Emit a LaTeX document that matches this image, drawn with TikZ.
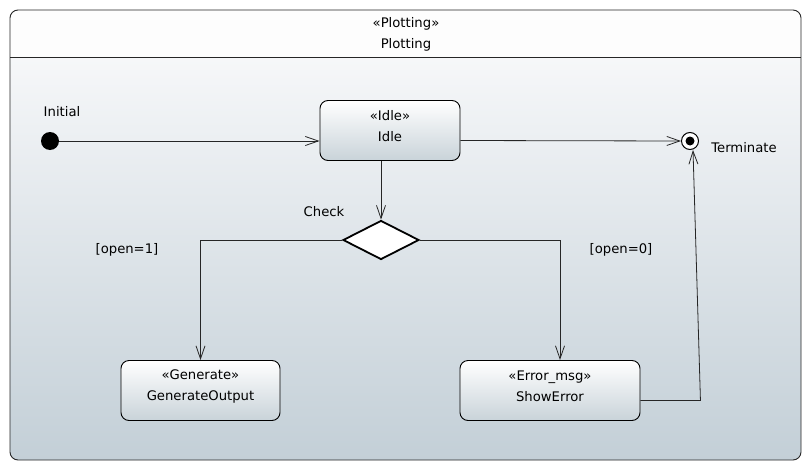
\documentclass[tikz,border=0pt]{standalone}
\usepackage{fontspec}
\setmainfont{DejaVu Sans}
\usetikzlibrary{arrows.meta,shapes.geometric}
\definecolor{bgtop}{HTML}{FCFCFD}
\definecolor{bgbot}{HTML}{C3CFD7}
\definecolor{boxbot}{HTML}{C9D3D9}
\definecolor{hdr}{HTML}{FDFDFD}
\begin{document}
\begin{tikzpicture}[x=1pt,y=-1pt,
  every node/.style={font=\fontsize{13.2}{21}\selectfont},
  statebox/.style={draw=black, line width=0.9pt, rounded corners=8pt, top color=white, bottom color=boxbot, minimum height=60pt, inner sep=0pt},
  boxtext/.style={align=center, inner sep=0pt},
  arr/.style={-{Straight Barb[length=13pt,width=9pt]}, line width=0.8pt, draw=black!85},
  lbl/.style={inner sep=0pt}]
\useasboundingbox (0,0) rectangle (811,471);
% frame
\shade[top color=bgtop, bottom color=bgbot, rounded corners=8pt] (10,10) rectangle (801,460);
\begin{scope}
\clip (0,0) rectangle (811,57);
\fill[hdr, rounded corners=8pt] (10,10) rectangle (801,460);
\end{scope}
\draw[black!85, line width=0.9pt, rounded corners=8pt] (10,10) rectangle (801,460);
\draw[black!85, line width=0.9pt] (10,57) -- (801,57);
\node[lbl] (stereo) at (406,24) {«Plotting»};
\node[lbl] (title) at (406,45) {Plotting};
% nodes
\node[circle, fill=black, minimum size=18pt, inner sep=0pt] (init) at (50,141) {};
\node[lbl] (initlbl) at (62,112) {Initial};
\node[statebox, minimum width=140pt] (idle) at (390,130.5) {};
\node[boxtext] (idletext) at ([yshift=4.5pt]idle.center) {«Idle»\\Idle};
\node[circle, draw=black, line width=1pt, fill=white, minimum size=17pt, inner sep=0pt] (term) at (690,141) {};
\fill[black] (term.center) circle (4.5pt);
\node[lbl] (termlbl) at (744,148) {Terminate};
\node[diamond, draw=black, line width=1.8pt, fill=white, minimum width=76pt, minimum height=39pt, inner sep=0pt] (dia) at (381,240) {};
\node[lbl] (check) at (324,212) {Check};
\node[lbl] (g1) at (127,250) {[open=1]};
\node[lbl] (g0) at (621,250) {[open=0]};
\node[statebox, minimum width=159pt] (gen) at (200.5,390.5) {};
\node[boxtext] (gentext) at ([yshift=4.5pt]gen.center) {«Generate»\\GenerateOutput};
\node[statebox, minimum width=180pt] (err) at (550,390.5) {};
\node[boxtext] (errtext) at ([yshift=4.5pt]err.center) {«Error\_msg»\\ShowError};
% connectors
\draw[arr] (init.east) -- (init -| idle.west);
\draw[arr] ([yshift=-10pt]idle.east) -- (term.west);
\draw[arr] (idle.south -| dia.north) -- (dia.north);
\draw[arr] (dia.west) -| (gen.north);
\draw[arr] (dia.east) -| ([xshift=10pt]err.north);
\draw[arr] ([yshift=-10pt]err.east) -- ++(60,0) -- ([xshift=3pt]term.south);
\end{tikzpicture}
\end{document}
